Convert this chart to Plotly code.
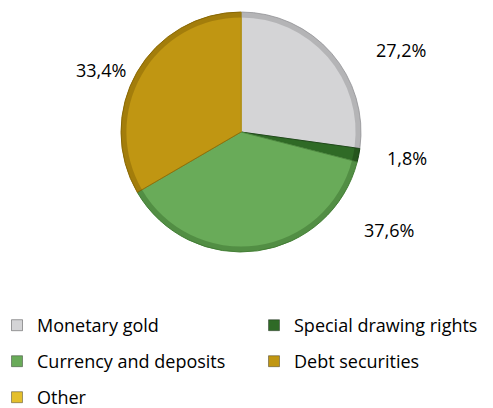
import plotly.graph_objects as go

# Reserve assets breakdown (share of total, %)
labels = ["Monetary gold", "Special drawing rights", "Currency and deposits",
          "Debt securities", "Other"]
shares = [27.2, 1.8, 37.6, 33.4, 0.0]
colors = ["#D4D4D6", "#2F6A26", "#69AB59", "#C09612", "#E4BF2C"]
edge_colors = ["#A9A9AC", "#1F4A19", "#4E8A40", "#927008", "#B8971A"]
rim_colors = ["rgba(120,120,124,0.35)", "rgba(20,50,15,0.35)",
              "rgba(40,90,30,0.35)", "rgba(110,80,0,0.35)", "rgba(140,110,10,0.35)"]

# which legend column each category goes in
legend_column = ["legend", "legend2", "legend", "legend2", "legend"]

# label anchor points (paper coordinates) for the percentage labels
label_pos = [(0.813, 0.878), (0.826, 0.613), (0.789, 0.436), (0.205, 0.828), None]

FONT = "Open Sans"
W, H = 493, 408
pie_domain = dict(x=[121 / W, 361 / W], y=[1 - 252 / H, 1 - 12 / H])

fig = go.Figure()

fig.add_trace(go.Pie(
    labels=labels,
    values=shares,
    sort=False,
    direction="clockwise",
    rotation=0,
    marker=dict(colors=colors, line=dict(color=edge_colors, width=1)),
    textinfo="none",
    hoverinfo="label+percent",
    showlegend=False,
    domain=pie_domain,
))

# darker rim along the outer edge of each slice
fig.add_trace(go.Pie(
    labels=labels,
    values=shares,
    sort=False,
    direction="clockwise",
    rotation=0,
    hole=0.955,
    marker=dict(colors=rim_colors, line=dict(width=0)),
    textinfo="none",
    hoverinfo="skip",
    showlegend=False,
    domain=pie_domain,
))

# legend entries: one per category, split into two columns
for lab, col, leg in zip(labels, colors, legend_column):
    fig.add_trace(go.Scatter(
        x=[None], y=[None],
        mode="markers",
        name=lab,
        legend=leg,
        legendgroup=lab,
        marker=dict(symbol="square", size=11, color=col,
                    line=dict(color="rgba(0,0,0,0.35)", width=1)),
        showlegend=True,
    ))

# percentage labels with comma decimal separator
for v, pos in zip(shares, label_pos):
    if pos is None or v <= 0:
        continue
    fig.add_annotation(
        x=pos[0], y=pos[1], xref="paper", yref="paper",
        text=f"{v:.1f}%".replace(".", ","),
        showarrow=False,
        font=dict(family=FONT, size=18, color="#000000"),
        xanchor="center", yanchor="middle",
    )

legend_common = dict(
    orientation="v",
    yanchor="top",
    xanchor="left",
    y=1 - 307 / H,
    font=dict(family=FONT, size=18, color="#000000"),
    tracegroupgap=9.6,
    bgcolor="rgba(0,0,0,0)",
    borderwidth=0,
    itemclick=False,
    itemdoubleclick=False,
)

fig.update_layout(
    width=W,
    height=H,
    margin=dict(l=0, r=0, t=0, b=0, pad=0, autoexpand=False),
    paper_bgcolor="white",
    plot_bgcolor="white",
    font=dict(family=FONT, size=18, color="#000000"),
    xaxis=dict(visible=False),
    yaxis=dict(visible=False),
    legend=dict(x=-3 / W, **legend_common),
    legend2=dict(x=254 / W, **legend_common),
)

fig.write_html("out.html")
